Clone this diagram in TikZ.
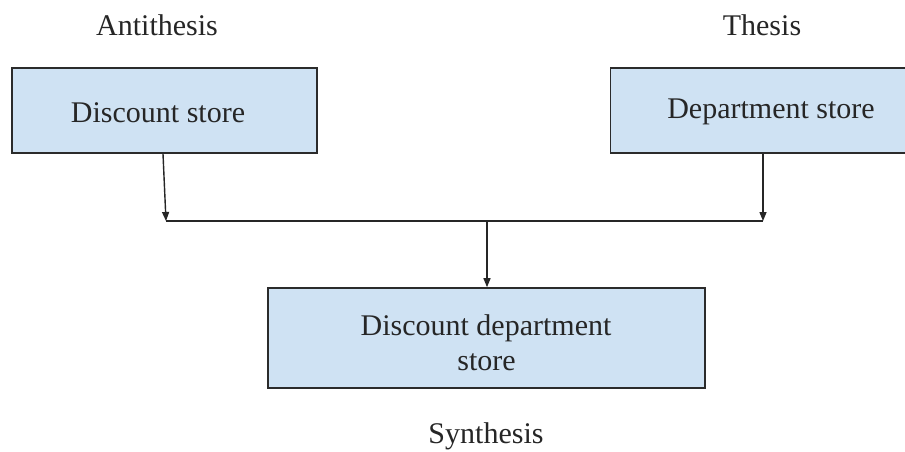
\documentclass[tikz,border=0pt]{standalone}
\usepackage{fontspec}
\setmainfont{Liberation Serif}
\usetikzlibrary{arrows.meta}
\definecolor{boxfill}{HTML}{CFE2F3}
\definecolor{boxline}{HTML}{2B2B2B}
\begin{document}
\begin{tikzpicture}[x=1pt,y=-1pt,
  storebox/.style={draw=boxline,fill=boxfill,line width=1.6pt,inner sep=0pt},
  lbl/.style={anchor=base,inner sep=0pt,font=\fontsize{30}{35}\selectfont,text=black!85},
  conn/.style={line width=1.4pt,draw=black!85},
  arr/.style={conn,-{Triangle[length=9pt,width=7pt]}}]
\useasboundingbox[fill=white] (0,0) rectangle (905,452);
% boxes
\node[storebox,minimum width=305pt,minimum height=85pt] (ds) at (164.5,110.5) {};
\node[storebox,minimum width=295pt,minimum height=85pt] (dps) at (758,110.5) {};
\node[storebox,minimum width=437pt,minimum height=100pt] (dds) at (486.5,338) {};
% texts in boxes
\node[lbl] (tds) at (158,122) {Discount store};
\node[lbl] (tdps) at (771,118) {Department store};
\node[lbl] (tdds1) at (486,335) {Discount department};
\node[lbl] (tdds2) at (486.5,370) {store};
% outside labels
\node[lbl] (anti) at (157,36) {Antithesis};
\node[lbl] (thes) at (762,36) {Thesis};
\node[lbl] (synt) at (486,443) {Synthesis};
% junction
\coordinate (jl) at (166,221);
\coordinate (jr) at (763,221);
\coordinate (jm) at (487,221);
\draw[conn] (jl) -- (jr);
\draw[arr] ([xshift=-1.5pt]ds.south) -- (jl);
\draw[arr] (dps.south -| jr) -- (jr);
\draw[arr] (jm) -- (dds.north -| jm);
\end{tikzpicture}
\end{document}
